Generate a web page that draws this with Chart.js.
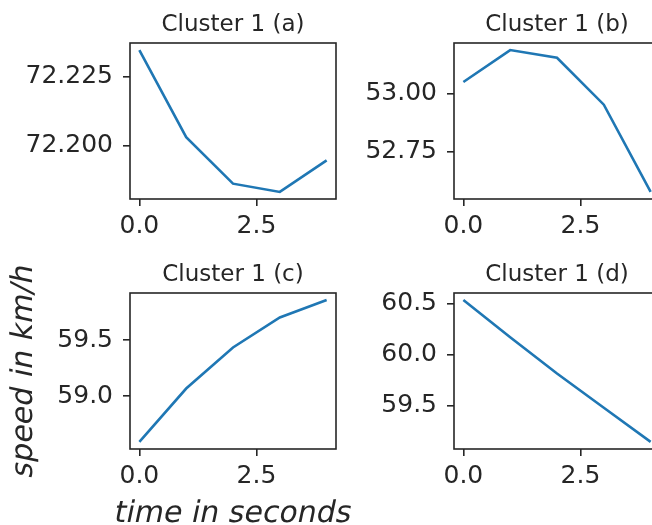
<!DOCTYPE html>
<html>
<head>
<meta charset="utf-8">
<script src="https://cdn.jsdelivr.net/npm/chart.js@4"></script>
<style>
html, body { margin:0; padding:0; background:#fff; width:652px; height:525px; overflow:hidden; position:relative; }
canvas { position:absolute; }
</style>
</head>
<body>
<canvas id="chartA" width="340" height="245" style="left:0;top:0"></canvas>
<canvas id="chartB" width="340" height="245" style="left:330px;top:0"></canvas>
<canvas id="chartC" width="370" height="280" style="left:0;top:245px"></canvas>
<canvas id="chartD" width="340" height="280" style="left:330px;top:245px"></canvas>
<script>
// Data
const timeSteps = [0, 1, 2, 3, 4];
const xTickLabels = ["0.0", "2.5"];

const speedA = [72.2347, 72.2030, 72.1861, 72.1831, 72.1946];
const speedB = [53.050, 53.188, 53.155, 52.952, 52.575];
const speedC = [58.592, 59.068, 59.434, 59.702, 59.857];
const speedD = [60.535, 60.170, 59.815, 59.480, 59.145];

const yTickLabelsA = ["72.200", "72.225"];
const yTickLabelsB = ["52.75", "53.00"];
const yTickLabelsC = ["59.0", "59.5"];
const yTickLabelsD = ["59.5", "60.0", "60.5"];

const panelTitles = ["Cluster 1 (a)", "Cluster 1 (b)", "Cluster 1 (c)", "Cluster 1 (d)"];
const yAxisTitle = "speed in km/h";
const xAxisTitle = "time in seconds";

const FONT = "'DejaVu Sans'";
const INK = "#262626";
const LINE = "#1f77b4";
const SLANT = -0.21; // only a condensed oblique face is installed, so slant the regular one

// axes frame on all four sides, title centred over the plot area,
// and the oblique axis labels of the lower-left panel
const framePlugin = {
    id: "frame",
    afterDraw(chart, args, opts) {
        const {ctx, chartArea: a} = chart;
        ctx.save();
        ctx.strokeStyle = INK;
        ctx.lineWidth = 1.6;
        ctx.strokeRect(a.left, a.top, a.right - a.left, a.bottom - a.top);
        ctx.fillStyle = INK;
        ctx.font = "23px " + FONT;
        ctx.textAlign = "center";
        ctx.textBaseline = "middle";
        ctx.fillText(opts.text, (a.left + a.right) / 2, a.top - 18);

        ctx.font = "30px " + FONT;
        if (opts.xTitle) {
            ctx.save();
            ctx.translate((a.left + a.right) / 2, chart.height - 11);
            ctx.transform(1, 0, SLANT, 1, 0, 0);
            ctx.fillText(opts.xTitle, 0, 0);
            ctx.restore();
        }
        if (opts.yTitle) {
            ctx.save();
            ctx.translate(24, (a.top + a.bottom) / 2);
            ctx.rotate(-Math.PI / 2);
            ctx.transform(1, 0, SLANT, 1, 0, 0);
            ctx.fillText(opts.yTitle, 0, 0);
            ctx.restore();
        }
        ctx.restore();
    }
};

// matplotlib-like 5% margins
function padRange(values) {
    const lo = Math.min(...values), hi = Math.max(...values);
    const m = (hi - lo) * 0.05;
    return [lo - m, hi + m];
}

function axisStyle(tickLabels, pad) {
    return {
        grid: {drawOnChartArea:false, drawTicks:true, tickLength:7, color:INK, lineWidth:1.6},
        border: {display:false},
        afterBuildTicks: s => { s.ticks = tickLabels.map(t => ({value: parseFloat(t)})); },
        ticks: {
            color: INK, autoSkip: false, maxRotation: 0, padding: pad,
            font: {family: FONT, size: 25, lineHeight: 1.2},
            callback: (v, i) => tickLabels[i]
        }
    };
}

function makePanel(id, title, speeds, yTickLabels, box) {
    const [xMin, xMax] = padRange(timeSteps);
    const [yMin, yMax] = padRange(speeds);

    const xScale = Object.assign(axisStyle(xTickLabels, 5), {
        type: "linear", min: xMin, max: xMax,
        afterFit: s => { s.height = box.xHeight; }
    });
    const yScale = Object.assign(axisStyle(yTickLabels, 10), {
        type: "linear", min: yMin, max: yMax,
        afterFit: s => { s.width = box.yWidth; }
    });

    return new Chart(document.getElementById(id), {
        type: "line",
        data: {
            datasets: [{
                data: timeSteps.map((t, i) => ({x: t, y: speeds[i]})),
                borderColor: LINE, borderWidth: 2.6, pointRadius: 0,
                tension: 0, fill: false
            }]
        },
        options: {
            responsive: false,
            animation: false,
            layout: {padding: {top: box.top, right: box.right, left: 0, bottom: 0}},
            scales: {x: xScale, y: yScale},
            plugins: {
                legend: {display:false},
                tooltip: {enabled:false},
                frame: {
                    text: title,
                    xTitle: box.axisTitles ? xAxisTitle : null,
                    yTitle: box.axisTitles ? yAxisTitle : null
                }
            }
        },
        plugins: [framePlugin]
    });
}

makePanel("chartA", panelTitles[0], speedA, yTickLabelsA, {yWidth:130, xHeight:46, top:43, right:4});
makePanel("chartB", panelTitles[1], speedB, yTickLabelsB, {yWidth:124, xHeight:46, top:43, right:10});
makePanel("chartC", panelTitles[2], speedC, yTickLabelsC, {yWidth:130, xHeight:76, top:48, right:34, axisTitles:true});
makePanel("chartD", panelTitles[3], speedD, yTickLabelsD, {yWidth:124, xHeight:76, top:48, right:10});
</script>
</body>
</html>
